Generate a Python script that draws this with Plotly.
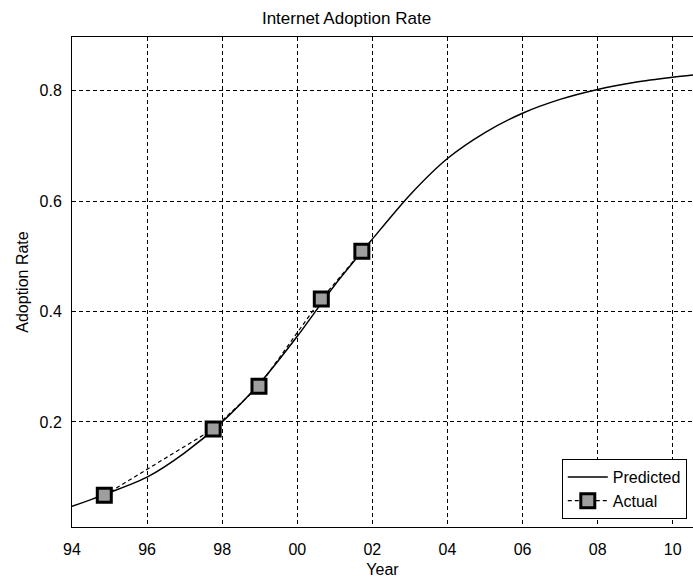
import plotly.graph_objects as go

# Predicted adoption curve (yearly) and observed adoption points
pred_years = [1994, 1995, 1996, 1997, 1998, 1999, 2000, 2001, 2002, 2003,
              2004, 2005, 2006, 2007, 2008, 2009, 2010, 2010.54]
pred_rate = [0.047, 0.072, 0.100, 0.144, 0.200, 0.270, 0.355, 0.448, 0.531, 0.611,
             0.677, 0.724, 0.759, 0.784, 0.802, 0.815, 0.824, 0.828]

actual_years = [1994.86, 1997.76, 1998.98, 2000.64, 2001.72]
actual_rate = [0.067, 0.187, 0.2645, 0.4225, 0.509]

tick_years = [1994, 1996, 1998, 2000, 2002, 2004, 2006, 2008, 2010]
tick_text = ["94", "96", "98", "00", "02", "04", "06", "08", "10"]
y_ticks = [0.2, 0.4, 0.6, 0.8]

FONT = "Liberation Sans, Arial, sans-serif"

fig = go.Figure()

fig.add_trace(go.Scatter(
    x=pred_years, y=pred_rate, mode="lines", name="Predicted",
    line=dict(color="black", width=1.5, shape="spline", smoothing=0.8),
))

fig.add_trace(go.Scatter(
    x=actual_years, y=actual_rate, mode="lines+markers", name="Actual",
    line=dict(color="black", width=1.2, dash="4px,3px"),
    marker=dict(symbol="square", size=14, color="#9e9e9e",
                line=dict(color="black", width=3)),
))

fig.update_layout(
    width=693, height=579,
    margin=dict(l=72, r=0, t=37, b=52),
    paper_bgcolor="white", plot_bgcolor="white",
    font=dict(family=FONT, size=16, color="black"),
    title=dict(text="Internet Adoption Rate", x=0.5, xanchor="center",
               y=1 - 18.5 / 579, yanchor="middle",
               font=dict(family=FONT, size=17, color="black")),
    legend=dict(x=0.990, y=0.0163, xanchor="right", yanchor="bottom",
                bgcolor="white", bordercolor="black", borderwidth=1,
                font=dict(family=FONT, size=16, color="black"),
                itemwidth=40, tracegroupgap=0),
    showlegend=True,
)

fig.update_xaxes(
    range=[1994, 2010.54], tickvals=tick_years, ticktext=tick_text,
    showgrid=True, gridcolor="black", gridwidth=1, griddash="4px,3px",
    showline=True, linecolor="black", linewidth=1, mirror=True,
    zeroline=False, ticks="", ticklabelstandoff=8,
    title=dict(text="Year", standoff=6, font=dict(family=FONT, size=16)),
)
fig.update_yaxes(
    range=[0.0097, 0.897], tickvals=y_ticks, tickformat=".1f",
    showgrid=True, gridcolor="black", gridwidth=1, griddash="4px,3px",
    showline=True, linecolor="black", linewidth=1, mirror=False,
    zeroline=False, ticks="", ticklabelstandoff=6,
    title=dict(text="Adoption Rate", standoff=6, font=dict(family=FONT, size=16)),
)

fig.write_html("out.html")
